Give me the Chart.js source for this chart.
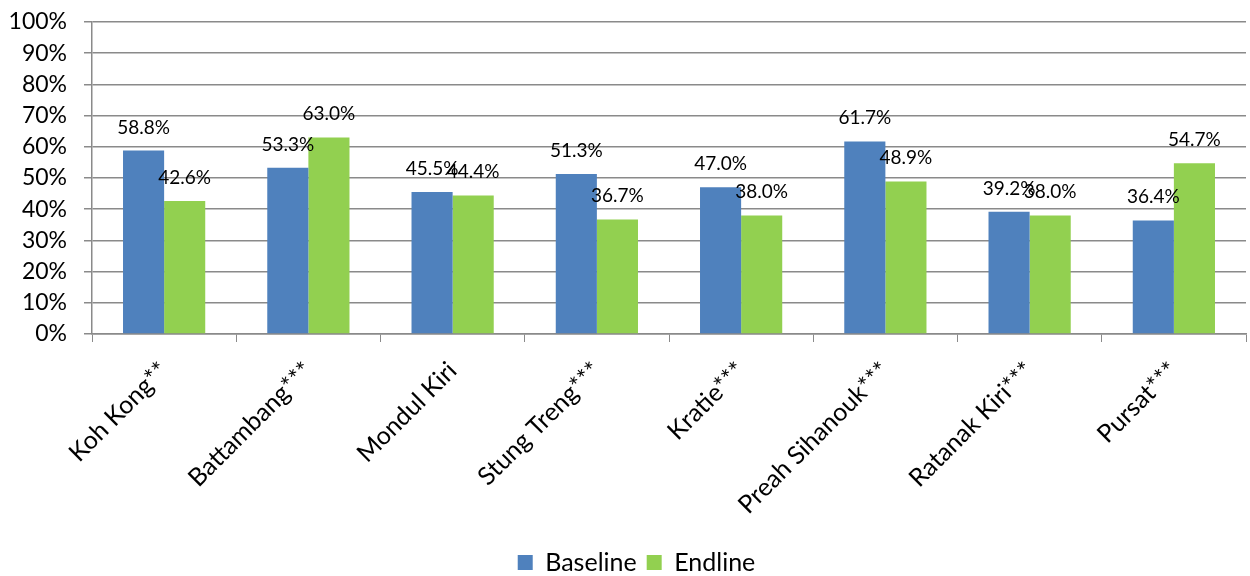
<!DOCTYPE html>
<html>
<head>
<meta charset="utf-8">
<script src="https://cdn.jsdelivr.net/npm/chart.js@4"></script>
<style>
  html, body { margin: 0; padding: 0; background: #fff; }
  #wrap { width: 1250px; height: 576px; }
</style>
</head>
<body>
<div id="wrap"><canvas id="myChart"></canvas></div>
<script>
const provinces = [
  'Koh Kong**', 'Battambang***', 'Mondul Kiri', 'Stung Treng***',
  'Kratie***', 'Preah Sihanouk***', 'Ratanak Kiri***', 'Pursat***',
];
const baseline = [58.8, 53.3, 45.5, 51.3, 47.0, 61.7, 39.2, 36.4];
const endline = [42.6, 63.0, 44.4, 36.7, 38.0, 48.9, 38.0, 54.7];
const yTicks = [0, 10, 20, 30, 40, 50, 60, 70, 80, 90, 100];

const fontFamily = 'Lato, "Open Sans", sans-serif';
const gridColor = '#8a8a8a';

// draws the value above each bar
const barLabels = {
  id: 'barLabels',
  afterDatasetsDraw(chart) {
    const ctx = chart.ctx;
    ctx.save();
    ctx.font = '19px ' + fontFamily;
    ctx.fillStyle = '#000';
    ctx.textAlign = 'center';
    ctx.textBaseline = 'alphabetic';
    chart.data.datasets.forEach((ds, i) => {
      chart.getDatasetMeta(i).data.forEach((bar, j) => {
        ctx.fillText(ds.data[j].toFixed(1) + '%', bar.x, bar.y - 17);
      });
    });
    ctx.restore();
  },
};

// nudge the legend a little lower and to the right
const legendShift = {
  id: 'legendShift',
  afterLayout(chart) {
    const lg = chart.legend;
    lg.top += 9;
    lg.bottom += 9;
    lg.left += 27;
  },
};

const ctx = document.getElementById('myChart').getContext('2d');
new Chart(ctx, {
  type: 'bar',
  data: {
    labels: provinces,
    datasets: [
      { label: 'Baseline', data: baseline, backgroundColor: '#4F81BD' },
      { label: 'Endline', data: endline, backgroundColor: '#92D050' },
    ],
  },
  options: {
    responsive: true,
    maintainAspectRatio: false,
    animation: false,
    layout: { padding: { top: 22, right: 4, left: 0, bottom: 0 } },
    datasets: { bar: { barPercentage: 1, categoryPercentage: 0.57 } },
    scales: {
      x: {
        grid: { drawOnChartArea: false, drawTicks: true, tickLength: 8, color: gridColor, offset: true },
        border: { color: gridColor, width: 1.5 },
        ticks: {
          color: '#000',
          font: { family: fontFamily, size: 25 },
          minRotation: 45,
          maxRotation: 45,
          autoSkip: false,
          padding: 14,
        },
        afterFit(scale) { scale.height = 197; },
      },
      y: {
        min: 0,
        max: 100,
        afterBuildTicks(scale) { scale.ticks = yTicks.map(v => ({ value: v })); },
        grid: { color: gridColor, lineWidth: 1.5, tickLength: 8 },
        border: { color: gridColor, width: 1.5 },
        ticks: {
          color: '#000',
          font: { family: fontFamily, size: 23 },
          padding: 17,
          autoSkip: false,
          callback: v => v + '%',
        },
        afterFit(scale) {
          scale.width = 92;
          scale.paddingTop = 0;
        },
      },
    },
    plugins: {
      legend: {
        display: true,
        position: 'bottom',
        labels: {
          color: '#000',
          font: { family: fontFamily, size: 25 },
          boxWidth: 15,
          boxHeight: 15,
          padding: 10,
        },
      },
      tooltip: { enabled: false },
    },
  },
  plugins: [barLabels, legendShift],
});
</script>
</body>
</html>
